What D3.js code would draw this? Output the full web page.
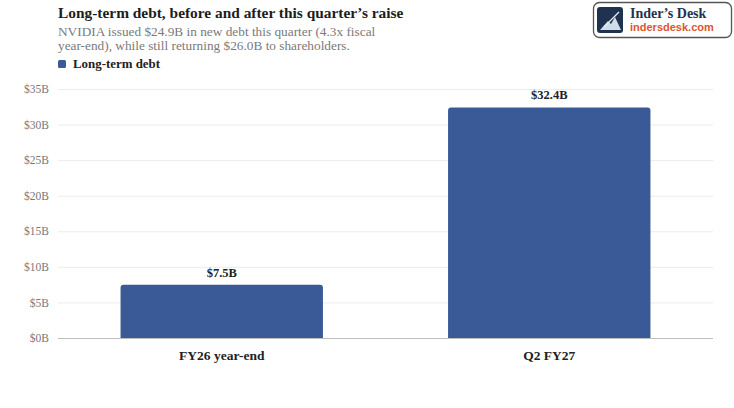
<!DOCTYPE html>
<html>
<head>
<meta charset="utf-8">
<script src="https://cdn.jsdelivr.net/npm/d3@7"></script>
<style>
  body { margin: 0; background: #fff; }
  svg { display: block; }
</style>
</head>
<body>
<div id="chart"></div>
<script>
// chart data
const categories = ["FY26 year-end", "Q2 FY27"];
const debtValues = [7.5, 32.4];
const barLabels = ["$7.5B", "$32.4B"];
const yTicks = [0, 5, 10, 15, 20, 25, 30, 35];
const title = "Long-term debt, before and after this quarter\u2019s raise";
const subtitleLines = [
    "NVIDIA issued $24.9B in new debt this quarter (4.3x fiscal",
    "year-end), while still returning $26.0B to shareholders."
];
const legendLabel = "Long-term debt";

const W = 734, H = 408;
const serif = "'Liberation Serif', 'DejaVu Serif', serif";
const barColor = "#3a5a97";

let svg = d3.select("#chart")
    .append("svg")
    .attr("width", W)
    .attr("height", H);

let margin = { left: 58, right: 21, top: 89, bottom: 70 };

let x = d3.scaleBand()
    .domain(categories)
    .range([margin.left, W - margin.right])
    .paddingInner(0.382)
    .paddingOuter(0.191);

let y = d3.scaleLinear()
    .domain([0, 35])
    .range([338, 89]);

// header
svg.append("text")
    .attr("x", 58).attr("y", 18)
    .style("font-family", serif)
    .style("font-weight", "bold")
    .style("font-size", "15.4px")
    .style("fill", "#1d1d1d")
    .text(title);

svg.selectAll(".sub")
    .data(subtitleLines)
    .join("text")
    .attr("class", "sub")
    .attr("x", 58)
    .attr("y", (d, i) => 36 + i * 14)
    .style("font-family", serif)
    .style("font-size", "13.3px")
    .style("fill", "#7a7a7a")
    .text(d => d);

// legend
svg.append("rect")
    .attr("x", 58).attr("y", 60)
    .attr("width", 8).attr("height", 8)
    .attr("rx", 1.5)
    .attr("fill", barColor);
svg.append("text")
    .attr("x", 73).attr("y", 68)
    .style("font-family", serif)
    .style("font-weight", "bold")
    .style("font-size", "12.9px")
    .style("fill", "#222")
    .text(legendLabel);

// logo badge
let logo = svg.append("g");
logo.append("rect")
    .attr("x", 593.5).attr("y", 2.5)
    .attr("width", 138).attr("height", 35)
    .attr("rx", 6)
    .attr("fill", "#fff")
    .attr("stroke", "#555")
    .attr("stroke-width", 1.3);
logo.append("rect")
    .attr("x", 597).attr("y", 7)
    .attr("width", 26).attr("height", 26)
    .attr("rx", 3)
    .attr("fill", "#1f3350");
logo.append("path")
    .attr("d", "M600,30 L608,21 L611,24 L615,17 L621,30 Z")
    .attr("fill", "#cfdcea");
logo.append("path")
    .attr("d", "M604,27 L619,12")
    .attr("stroke", "#e7eef5")
    .attr("stroke-width", 1.2);
logo.append("text")
    .attr("x", 630).attr("y", 18)
    .style("font-family", serif)
    .style("font-weight", "bold")
    .style("font-size", "14px")
    .style("fill", "#1f3350")
    .text("Inder\u2019s Desk");
logo.append("text")
    .attr("x", 630).attr("y", 31)
    .style("font-family", "'Liberation Sans', Arial, sans-serif")
    .style("font-weight", "bold")
    .style("font-size", "11px")
    .style("fill", "#e0552b")
    .text("indersdesk.com");

// grid + y axis
let yAxis = d3.axisLeft(y)
    .tickValues(yTicks)
    .tickSize(-(W - margin.right - margin.left))
    .tickPadding(9)
    .tickFormat(d => "$" + d + "B");

let gy = svg.append("g")
    .attr("transform", "translate(" + margin.left + ",0)")
    .call(yAxis);
gy.select(".domain").remove();
gy.selectAll(".tick line")
    .attr("stroke", d => d === 0 ? "#bdbdbd" : "#ececec")
    .attr("stroke-width", 1);
gy.selectAll(".tick text")
    .style("font-family", serif)
    .style("font-size", "11.5px")
    .style("fill", "#777");

// bars with rounded top corners
let r = 3;
function barPath(d, i) {
    let x0 = x(categories[i]), w = x.bandwidth();
    let y0 = y(d), y1 = y(0);
    return "M" + x0 + "," + y1 +
        "V" + (y0 + r) +
        "Q" + x0 + "," + y0 + " " + (x0 + r) + "," + y0 +
        "H" + (x0 + w - r) +
        "Q" + (x0 + w) + "," + y0 + " " + (x0 + w) + "," + (y0 + r) +
        "V" + y1 + "Z";
}

svg.selectAll(".bar")
    .data(debtValues)
    .join("path")
    .attr("class", "bar")
    .attr("d", barPath)
    .attr("fill", barColor);

svg.selectAll(".val")
    .data(debtValues)
    .join("text")
    .attr("class", "val")
    .attr("x", (d, i) => x(categories[i]) + x.bandwidth() / 2)
    .attr("y", d => y(d) - 8)
    .attr("text-anchor", "middle")
    .style("font-family", serif)
    .style("font-weight", "bold")
    .style("font-size", "12.5px")
    .style("fill", "#222")
    .text((d, i) => barLabels[i]);

// x axis labels
let xAxis = d3.axisBottom(x).tickSize(0).tickPadding(12);
let gx = svg.append("g")
    .attr("transform", "translate(0," + y(0) + ")")
    .call(xAxis);
gx.select(".domain").remove();
gx.selectAll(".tick text")
    .style("font-family", serif)
    .style("font-weight", "bold")
    .style("font-size", "13.5px")
    .style("fill", "#222");
</script>
</body>
</html>
